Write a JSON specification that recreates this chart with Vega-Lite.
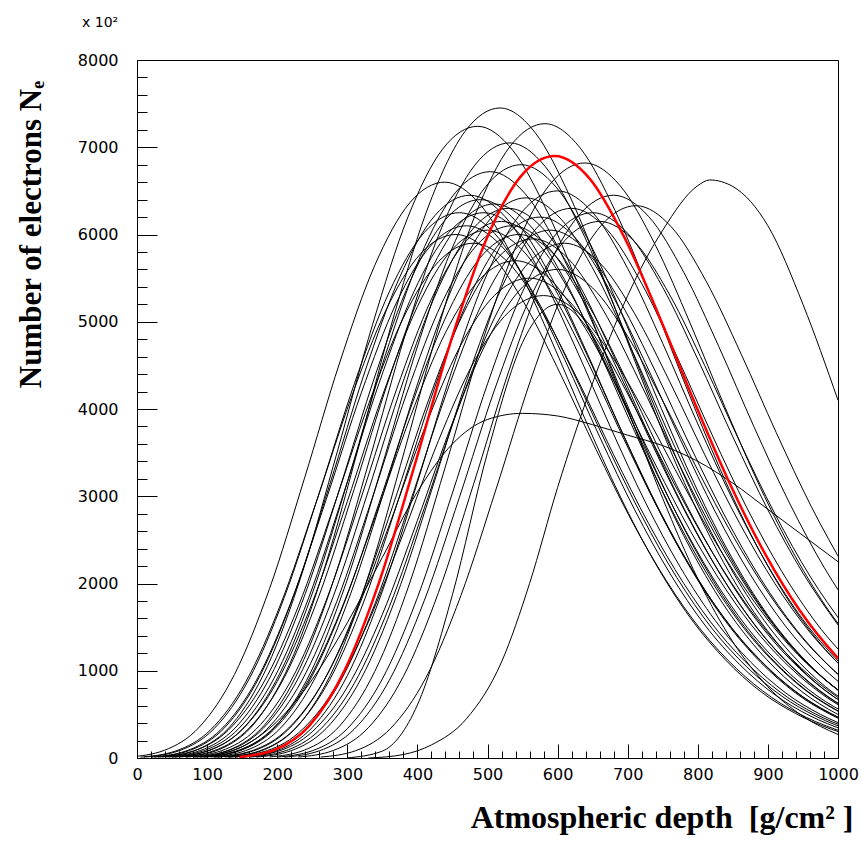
{
  "$schema": "https://vega.github.io/schema/vega-lite/v6.json",
  "width": 701,
  "height": 698,
  "autosize": "none",
  "padding": {"left": 137, "top": 60, "right": 24, "bottom": 84},
  "background": "white",
  "config": {"view": {"stroke": "black", "strokeWidth": 1}},
  "title": {"text": "x 10²", "anchor": "start", "frame": "group", "dx": -55, "offset": 11, "baseline": "alphabetic", "font": "DejaVu Sans", "fontSize": 14, "fontWeight": "normal", "color": "black"},
  "datasets": {
    "curves": [
{"c":1,"x":68,"y":13},{"c":1,"x":118,"y":99},{"c":1,"x":168,"y":401},{"c":1,"x":218,"y":1080},{"c":1,"x":268,"y":2190},{"c":1,"x":318,"y":3621},{"c":1,"x":368,"y":5111},{"c":1,"x":418,"y":6370},{"c":1,"x":468,"y":7182},{"c":1,"x":518,"y":7450},{"c":1,"x":568,"y":7167},{"c":1,"x":618,"y":6429},{"c":1,"x":668,"y":5446},{"c":1,"x":718,"y":4388},{"c":1,"x":768,"y":3390},{"c":1,"x":818,"y":2526},{"c":1,"x":868,"y":1818},{"c":1,"x":918,"y":1274},{"c":1,"x":968,"y":864},{"c":1,"x":1018,"y":577},
{"c":2,"x":36,"y":12},{"c":2,"x":86,"y":96},{"c":2,"x":136,"y":390},{"c":2,"x":186,"y":1050},{"c":2,"x":236,"y":2129},{"c":2,"x":286,"y":3519},{"c":2,"x":336,"y":4967},{"c":2,"x":386,"y":6190},{"c":2,"x":436,"y":6979},{"c":2,"x":486,"y":7240},{"c":2,"x":536,"y":6965},{"c":2,"x":586,"y":6248},{"c":2,"x":636,"y":5292},{"c":2,"x":686,"y":4264},{"c":2,"x":736,"y":3294},{"c":2,"x":786,"y":2454},{"c":2,"x":836,"y":1767},{"c":2,"x":886,"y":1238},{"c":2,"x":936,"y":840},{"c":2,"x":986,"y":561},{"c":2,"x":1036,"y":366},
{"c":3,"x":132,"y":12},{"c":3,"x":182,"y":97},{"c":3,"x":232,"y":391},{"c":3,"x":282,"y":1054},{"c":3,"x":332,"y":2137},{"c":3,"x":382,"y":3533},{"c":3,"x":432,"y":4987},{"c":3,"x":482,"y":6216},{"c":3,"x":532,"y":7008},{"c":3,"x":582,"y":7270},{"c":3,"x":632,"y":6994},{"c":3,"x":682,"y":6274},{"c":3,"x":732,"y":5314},{"c":3,"x":782,"y":4282},{"c":3,"x":832,"y":3308},{"c":3,"x":882,"y":2465},{"c":3,"x":932,"y":1774},{"c":3,"x":982,"y":1243},{"c":3,"x":1032,"y":843},
{"c":4,"x":-11,"y":11},{"c":4,"x":39,"y":88},{"c":4,"x":89,"y":355},{"c":4,"x":139,"y":957},{"c":4,"x":189,"y":1940},{"c":4,"x":239,"y":3208},{"c":4,"x":289,"y":4528},{"c":4,"x":339,"y":5643},{"c":4,"x":389,"y":6362},{"c":4,"x":439,"y":6600},{"c":4,"x":489,"y":6349},{"c":4,"x":539,"y":5696},{"c":4,"x":589,"y":4825},{"c":4,"x":639,"y":3887},{"c":4,"x":689,"y":3003},{"c":4,"x":739,"y":2237},{"c":4,"x":789,"y":1610},{"c":4,"x":839,"y":1129},{"c":4,"x":889,"y":766},{"c":4,"x":939,"y":512},{"c":4,"x":989,"y":334},{"c":4,"x":1039,"y":214},
{"c":5,"x":189,"y":12},{"c":5,"x":239,"y":91},{"c":5,"x":289,"y":367},{"c":5,"x":339,"y":989},{"c":5,"x":389,"y":2005},{"c":5,"x":439,"y":3315},{"c":5,"x":489,"y":4679},{"c":5,"x":539,"y":5831},{"c":5,"x":589,"y":6574},{"c":5,"x":639,"y":6820},{"c":5,"x":689,"y":6561},{"c":5,"x":739,"y":5886},{"c":5,"x":789,"y":4985},{"c":5,"x":839,"y":4017},{"c":5,"x":889,"y":3103},{"c":5,"x":939,"y":2312},{"c":5,"x":989,"y":1664},{"c":5,"x":1039,"y":1166},
{"c":6,"x":82,"y":12},{"c":6,"x":132,"y":94},{"c":6,"x":182,"y":379},{"c":6,"x":232,"y":1022},{"c":6,"x":282,"y":2073},{"c":6,"x":332,"y":3426},{"c":6,"x":382,"y":4836},{"c":6,"x":432,"y":6028},{"c":6,"x":482,"y":6796},{"c":6,"x":532,"y":7050},{"c":6,"x":582,"y":6782},{"c":6,"x":632,"y":6084},{"c":6,"x":682,"y":5154},{"c":6,"x":732,"y":4152},{"c":6,"x":782,"y":3208},{"c":6,"x":832,"y":2390},{"c":6,"x":882,"y":1720},{"c":6,"x":932,"y":1206},{"c":6,"x":982,"y":818},{"c":6,"x":1032,"y":546},
{"c":7,"x":98,"y":12},{"c":7,"x":148,"y":90},{"c":7,"x":198,"y":366},{"c":7,"x":248,"y":986},{"c":7,"x":298,"y":1999},{"c":7,"x":348,"y":3305},{"c":7,"x":398,"y":4665},{"c":7,"x":448,"y":5814},{"c":7,"x":498,"y":6555},{"c":7,"x":548,"y":6800},{"c":7,"x":598,"y":6542},{"c":7,"x":648,"y":5868},{"c":7,"x":698,"y":4971},{"c":7,"x":748,"y":4005},{"c":7,"x":798,"y":3094},{"c":7,"x":848,"y":2305},{"c":7,"x":898,"y":1659},{"c":7,"x":948,"y":1163},{"c":7,"x":998,"y":789},{"c":7,"x":1048,"y":527},
{"c":8,"x":54,"y":11},{"c":8,"x":104,"y":89},{"c":8,"x":154,"y":362},{"c":8,"x":204,"y":974},{"c":8,"x":254,"y":1976},{"c":8,"x":304,"y":3266},{"c":8,"x":354,"y":4610},{"c":8,"x":404,"y":5746},{"c":8,"x":454,"y":6478},{"c":8,"x":504,"y":6720},{"c":8,"x":554,"y":6465},{"c":8,"x":604,"y":5799},{"c":8,"x":654,"y":4912},{"c":8,"x":704,"y":3958},{"c":8,"x":754,"y":3058},{"c":8,"x":804,"y":2278},{"c":8,"x":854,"y":1640},{"c":8,"x":904,"y":1149},{"c":8,"x":954,"y":780},{"c":8,"x":1004,"y":521},
{"c":9,"x":25,"y":11},{"c":9,"x":75,"y":86},{"c":9,"x":125,"y":347},{"c":9,"x":175,"y":935},{"c":9,"x":225,"y":1896},{"c":9,"x":275,"y":3135},{"c":9,"x":325,"y":4425},{"c":9,"x":375,"y":5515},{"c":9,"x":425,"y":6218},{"c":9,"x":475,"y":6450},{"c":9,"x":525,"y":6205},{"c":9,"x":575,"y":5566},{"c":9,"x":625,"y":4715},{"c":9,"x":675,"y":3799},{"c":9,"x":725,"y":2935},{"c":9,"x":775,"y":2187},{"c":9,"x":825,"y":1574},{"c":9,"x":875,"y":1103},{"c":9,"x":925,"y":748},{"c":9,"x":975,"y":500},{"c":9,"x":1025,"y":326},
{"c":10,"x":262,"y":11},{"c":10,"x":312,"y":84},{"c":10,"x":362,"y":341},{"c":10,"x":412,"y":918},{"c":10,"x":462,"y":1861},{"c":10,"x":512,"y":3076},{"c":10,"x":562,"y":4342},{"c":10,"x":612,"y":5412},{"c":10,"x":662,"y":6102},{"c":10,"x":712,"y":6330},{"c":10,"x":762,"y":6089},{"c":10,"x":812,"y":5463},{"c":10,"x":862,"y":4627},{"c":10,"x":912,"y":3728},{"c":10,"x":962,"y":2880},{"c":10,"x":1012,"y":2146},
{"c":11,"x":230,"y":11},{"c":11,"x":280,"y":86},{"c":11,"x":330,"y":347},{"c":11,"x":380,"y":935},{"c":11,"x":430,"y":1896},{"c":11,"x":480,"y":3135},{"c":11,"x":530,"y":4425},{"c":11,"x":580,"y":5515},{"c":11,"x":630,"y":6218},{"c":11,"x":680,"y":6450},{"c":11,"x":730,"y":6205},{"c":11,"x":780,"y":5566},{"c":11,"x":830,"y":4715},{"c":11,"x":880,"y":3799},{"c":11,"x":930,"y":2935},{"c":11,"x":980,"y":2187},{"c":11,"x":1030,"y":1574},
{"c":12,"x":10,"y":11},{"c":12,"x":60,"y":83},{"c":12,"x":110,"y":336},{"c":12,"x":160,"y":906},{"c":12,"x":210,"y":1838},{"c":12,"x":260,"y":3038},{"c":12,"x":310,"y":4288},{"c":12,"x":360,"y":5344},{"c":12,"x":410,"y":6025},{"c":12,"x":460,"y":6250},{"c":12,"x":510,"y":6013},{"c":12,"x":560,"y":5394},{"c":12,"x":610,"y":4569},{"c":12,"x":660,"y":3681},{"c":12,"x":710,"y":2844},{"c":12,"x":760,"y":2119},{"c":12,"x":810,"y":1525},{"c":12,"x":860,"y":1069},{"c":12,"x":910,"y":725},{"c":12,"x":960,"y":484},{"c":12,"x":1010,"y":316},
{"c":13,"x":40,"y":11},{"c":13,"x":90,"y":85},{"c":13,"x":140,"y":344},{"c":13,"x":190,"y":928},{"c":13,"x":240,"y":1882},{"c":13,"x":290,"y":3110},{"c":13,"x":340,"y":4390},{"c":13,"x":390,"y":5472},{"c":13,"x":440,"y":6170},{"c":13,"x":490,"y":6400},{"c":13,"x":540,"y":6157},{"c":13,"x":590,"y":5523},{"c":13,"x":640,"y":4678},{"c":13,"x":690,"y":3770},{"c":13,"x":740,"y":2912},{"c":13,"x":790,"y":2170},{"c":13,"x":840,"y":1562},{"c":13,"x":890,"y":1094},{"c":13,"x":940,"y":742},{"c":13,"x":990,"y":496},{"c":13,"x":1040,"y":324},
{"c":14,"x":60,"y":11},{"c":14,"x":110,"y":84},{"c":14,"x":160,"y":342},{"c":14,"x":210,"y":921},{"c":14,"x":260,"y":1867},{"c":14,"x":310,"y":3086},{"c":14,"x":360,"y":4356},{"c":14,"x":410,"y":5429},{"c":14,"x":460,"y":6121},{"c":14,"x":510,"y":6350},{"c":14,"x":560,"y":6109},{"c":14,"x":610,"y":5480},{"c":14,"x":660,"y":4642},{"c":14,"x":710,"y":3740},{"c":14,"x":760,"y":2889},{"c":14,"x":810,"y":2153},{"c":14,"x":860,"y":1549},{"c":14,"x":910,"y":1086},{"c":14,"x":960,"y":737},{"c":14,"x":1010,"y":492},
{"c":15,"x":80,"y":11},{"c":15,"x":130,"y":84},{"c":15,"x":180,"y":339},{"c":15,"x":230,"y":914},{"c":15,"x":280,"y":1852},{"c":15,"x":330,"y":3062},{"c":15,"x":380,"y":4322},{"c":15,"x":430,"y":5387},{"c":15,"x":480,"y":6073},{"c":15,"x":530,"y":6300},{"c":15,"x":580,"y":6061},{"c":15,"x":630,"y":5437},{"c":15,"x":680,"y":4605},{"c":15,"x":730,"y":3711},{"c":15,"x":780,"y":2867},{"c":15,"x":830,"y":2136},{"c":15,"x":880,"y":1537},{"c":15,"x":930,"y":1077},{"c":15,"x":980,"y":731},{"c":15,"x":1030,"y":488},
{"c":16,"x":105,"y":11},{"c":16,"x":155,"y":85},{"c":16,"x":205,"y":345},{"c":16,"x":255,"y":931},{"c":16,"x":305,"y":1887},{"c":16,"x":355,"y":3120},{"c":16,"x":405,"y":4404},{"c":16,"x":455,"y":5489},{"c":16,"x":505,"y":6189},{"c":16,"x":555,"y":6420},{"c":16,"x":605,"y":6176},{"c":16,"x":655,"y":5540},{"c":16,"x":705,"y":4693},{"c":16,"x":755,"y":3781},{"c":16,"x":805,"y":2921},{"c":16,"x":855,"y":2176},{"c":16,"x":905,"y":1566},{"c":16,"x":955,"y":1098},{"c":16,"x":1005,"y":745},
{"c":17,"x":125,"y":11},{"c":17,"x":175,"y":82},{"c":17,"x":225,"y":334},{"c":17,"x":275,"y":899},{"c":17,"x":325,"y":1823},{"c":17,"x":375,"y":3013},{"c":17,"x":425,"y":4253},{"c":17,"x":475,"y":5301},{"c":17,"x":525,"y":5977},{"c":17,"x":575,"y":6200},{"c":17,"x":625,"y":5964},{"c":17,"x":675,"y":5351},{"c":17,"x":725,"y":4532},{"c":17,"x":775,"y":3652},{"c":17,"x":825,"y":2821},{"c":17,"x":875,"y":2102},{"c":17,"x":925,"y":1513},{"c":17,"x":975,"y":1060},{"c":17,"x":1025,"y":719},
{"c":18,"x":150,"y":11},{"c":18,"x":200,"y":86},{"c":18,"x":250,"y":350},{"c":18,"x":300,"y":943},{"c":18,"x":350,"y":1911},{"c":18,"x":400,"y":3159},{"c":18,"x":450,"y":4459},{"c":18,"x":500,"y":5558},{"c":18,"x":550,"y":6266},{"c":18,"x":600,"y":6500},{"c":18,"x":650,"y":6253},{"c":18,"x":700,"y":5610},{"c":18,"x":750,"y":4752},{"c":18,"x":800,"y":3829},{"c":18,"x":850,"y":2958},{"c":18,"x":900,"y":2204},{"c":18,"x":950,"y":1586},{"c":18,"x":1000,"y":1112},
{"c":19,"x":170,"y":11},{"c":19,"x":220,"y":84},{"c":19,"x":270,"y":339},{"c":19,"x":320,"y":914},{"c":19,"x":370,"y":1852},{"c":19,"x":420,"y":3062},{"c":19,"x":470,"y":4322},{"c":19,"x":520,"y":5387},{"c":19,"x":570,"y":6073},{"c":19,"x":620,"y":6300},{"c":19,"x":670,"y":6061},{"c":19,"x":720,"y":5437},{"c":19,"x":770,"y":4605},{"c":19,"x":820,"y":3711},{"c":19,"x":870,"y":2867},{"c":19,"x":920,"y":2136},{"c":19,"x":970,"y":1537},{"c":19,"x":1020,"y":1077},
{"c":20,"x":200,"y":11},{"c":20,"x":250,"y":83},{"c":20,"x":300,"y":336},{"c":20,"x":350,"y":906},{"c":20,"x":400,"y":1838},{"c":20,"x":450,"y":3038},{"c":20,"x":500,"y":4288},{"c":20,"x":550,"y":5344},{"c":20,"x":600,"y":6025},{"c":20,"x":650,"y":6250},{"c":20,"x":700,"y":6013},{"c":20,"x":750,"y":5394},{"c":20,"x":800,"y":4569},{"c":20,"x":850,"y":3681},{"c":20,"x":900,"y":2844},{"c":20,"x":950,"y":2119},{"c":20,"x":1000,"y":1525},
{"c":21,"x":20,"y":10},{"c":21,"x":70,"y":81},{"c":21,"x":120,"y":328},{"c":21,"x":170,"y":885},{"c":21,"x":220,"y":1793},{"c":21,"x":270,"y":2965},{"c":21,"x":320,"y":4185},{"c":21,"x":370,"y":5216},{"c":21,"x":420,"y":5880},{"c":21,"x":470,"y":6100},{"c":21,"x":520,"y":5868},{"c":21,"x":570,"y":5264},{"c":21,"x":620,"y":4459},{"c":21,"x":670,"y":3593},{"c":21,"x":720,"y":2776},{"c":21,"x":770,"y":2068},{"c":21,"x":820,"y":1488},{"c":21,"x":870,"y":1043},{"c":21,"x":920,"y":708},{"c":21,"x":970,"y":473},{"c":21,"x":1020,"y":309},
{"c":22,"x":50,"y":10},{"c":22,"x":100,"y":80},{"c":22,"x":150,"y":325},{"c":22,"x":200,"y":877},{"c":22,"x":250,"y":1779},{"c":22,"x":300,"y":2940},{"c":22,"x":350,"y":4150},{"c":22,"x":400,"y":5173},{"c":22,"x":450,"y":5832},{"c":22,"x":500,"y":6050},{"c":22,"x":550,"y":5820},{"c":22,"x":600,"y":5221},{"c":22,"x":650,"y":4423},{"c":22,"x":700,"y":3563},{"c":22,"x":750,"y":2753},{"c":22,"x":800,"y":2051},{"c":22,"x":850,"y":1476},{"c":22,"x":900,"y":1035},{"c":22,"x":950,"y":702},{"c":22,"x":1000,"y":469},
{"c":23,"x":70,"y":10},{"c":23,"x":120,"y":82},{"c":23,"x":170,"y":331},{"c":23,"x":220,"y":892},{"c":23,"x":270,"y":1808},{"c":23,"x":320,"y":2989},{"c":23,"x":370,"y":4219},{"c":23,"x":420,"y":5258},{"c":23,"x":470,"y":5929},{"c":23,"x":520,"y":6150},{"c":23,"x":570,"y":5916},{"c":23,"x":620,"y":5307},{"c":23,"x":670,"y":4496},{"c":23,"x":720,"y":3622},{"c":23,"x":770,"y":2798},{"c":23,"x":820,"y":2085},{"c":23,"x":870,"y":1501},{"c":23,"x":920,"y":1052},{"c":23,"x":970,"y":713},{"c":23,"x":1020,"y":477},
{"c":24,"x":95,"y":10},{"c":24,"x":145,"y":80},{"c":24,"x":195,"y":323},{"c":24,"x":245,"y":870},{"c":24,"x":295,"y":1764},{"c":24,"x":345,"y":2916},{"c":24,"x":395,"y":4116},{"c":24,"x":445,"y":5130},{"c":24,"x":495,"y":5784},{"c":24,"x":545,"y":6000},{"c":24,"x":595,"y":5772},{"c":24,"x":645,"y":5178},{"c":24,"x":695,"y":4386},{"c":24,"x":745,"y":3534},{"c":24,"x":795,"y":2730},{"c":24,"x":845,"y":2034},{"c":24,"x":895,"y":1464},{"c":24,"x":945,"y":1026},{"c":24,"x":995,"y":696},{"c":24,"x":1045,"y":465},
{"c":25,"x":115,"y":10},{"c":25,"x":165,"y":79},{"c":25,"x":215,"y":320},{"c":25,"x":265,"y":863},{"c":25,"x":315,"y":1749},{"c":25,"x":365,"y":2892},{"c":25,"x":415,"y":4082},{"c":25,"x":465,"y":5087},{"c":25,"x":515,"y":5736},{"c":25,"x":565,"y":5950},{"c":25,"x":615,"y":5724},{"c":25,"x":665,"y":5135},{"c":25,"x":715,"y":4349},{"c":25,"x":765,"y":3505},{"c":25,"x":815,"y":2707},{"c":25,"x":865,"y":2017},{"c":25,"x":915,"y":1452},{"c":25,"x":965,"y":1017},{"c":25,"x":1015,"y":690},
{"c":26,"x":140,"y":10},{"c":26,"x":190,"y":80},{"c":26,"x":240,"y":325},{"c":26,"x":290,"y":877},{"c":26,"x":340,"y":1779},{"c":26,"x":390,"y":2940},{"c":26,"x":440,"y":4150},{"c":26,"x":490,"y":5173},{"c":26,"x":540,"y":5832},{"c":26,"x":590,"y":6050},{"c":26,"x":640,"y":5820},{"c":26,"x":690,"y":5221},{"c":26,"x":740,"y":4423},{"c":26,"x":790,"y":3563},{"c":26,"x":840,"y":2753},{"c":26,"x":890,"y":2051},{"c":26,"x":940,"y":1476},{"c":26,"x":990,"y":1035},{"c":26,"x":1040,"y":702},
{"c":27,"x":160,"y":10},{"c":27,"x":210,"y":78},{"c":27,"x":260,"y":317},{"c":27,"x":310,"y":856},{"c":27,"x":360,"y":1735},{"c":27,"x":410,"y":2867},{"c":27,"x":460,"y":4047},{"c":27,"x":510,"y":5045},{"c":27,"x":560,"y":5688},{"c":27,"x":610,"y":5900},{"c":27,"x":660,"y":5676},{"c":27,"x":710,"y":5092},{"c":27,"x":760,"y":4313},{"c":27,"x":810,"y":3475},{"c":27,"x":860,"y":2685},{"c":27,"x":910,"y":2000},{"c":27,"x":960,"y":1440},{"c":27,"x":1010,"y":1009},
{"c":28,"x":210,"y":10},{"c":28,"x":260,"y":82},{"c":28,"x":310,"y":331},{"c":28,"x":360,"y":892},{"c":28,"x":410,"y":1808},{"c":28,"x":460,"y":2989},{"c":28,"x":510,"y":4219},{"c":28,"x":560,"y":5258},{"c":28,"x":610,"y":5929},{"c":28,"x":660,"y":6150},{"c":28,"x":710,"y":5916},{"c":28,"x":760,"y":5307},{"c":28,"x":810,"y":4496},{"c":28,"x":860,"y":3622},{"c":28,"x":910,"y":2798},{"c":28,"x":960,"y":2085},{"c":28,"x":1010,"y":1501},
{"c":29,"x":90,"y":10},{"c":29,"x":140,"y":76},{"c":29,"x":190,"y":307},{"c":29,"x":240,"y":827},{"c":29,"x":290,"y":1676},{"c":29,"x":340,"y":2770},{"c":29,"x":390,"y":3910},{"c":29,"x":440,"y":4874},{"c":29,"x":490,"y":5495},{"c":29,"x":540,"y":5700},{"c":29,"x":590,"y":5483},{"c":29,"x":640,"y":4919},{"c":29,"x":690,"y":4167},{"c":29,"x":740,"y":3357},{"c":29,"x":790,"y":2594},{"c":29,"x":840,"y":1932},{"c":29,"x":890,"y":1391},{"c":29,"x":940,"y":975},{"c":29,"x":990,"y":661},{"c":29,"x":1040,"y":442},
{"c":30,"x":110,"y":9},{"c":30,"x":160,"y":73},{"c":30,"x":210,"y":296},{"c":30,"x":260,"y":798},{"c":30,"x":310,"y":1617},{"c":30,"x":360,"y":2673},{"c":30,"x":410,"y":3773},{"c":30,"x":460,"y":4703},{"c":30,"x":510,"y":5302},{"c":30,"x":560,"y":5500},{"c":30,"x":610,"y":5291},{"c":30,"x":660,"y":4747},{"c":30,"x":710,"y":4021},{"c":30,"x":760,"y":3240},{"c":30,"x":810,"y":2503},{"c":30,"x":860,"y":1865},{"c":30,"x":910,"y":1342},{"c":30,"x":960,"y":941},{"c":30,"x":1010,"y":638},
{"c":31,"x":130,"y":9},{"c":31,"x":180,"y":70},{"c":31,"x":230,"y":285},{"c":31,"x":280,"y":769},{"c":31,"x":330,"y":1558},{"c":31,"x":380,"y":2576},{"c":31,"x":430,"y":3636},{"c":31,"x":480,"y":4532},{"c":31,"x":530,"y":5109},{"c":31,"x":580,"y":5300},{"c":31,"x":630,"y":5099},{"c":31,"x":680,"y":4574},{"c":31,"x":730,"y":3874},{"c":31,"x":780,"y":3122},{"c":31,"x":830,"y":2412},{"c":31,"x":880,"y":1797},{"c":31,"x":930,"y":1293},{"c":31,"x":980,"y":906},{"c":31,"x":1030,"y":615},
{"c":32,"x":150,"y":10},{"c":32,"x":200,"y":74},{"c":32,"x":250,"y":301},{"c":32,"x":300,"y":812},{"c":32,"x":350,"y":1646},{"c":32,"x":400,"y":2722},{"c":32,"x":450,"y":3842},{"c":32,"x":500,"y":4788},{"c":32,"x":550,"y":5398},{"c":32,"x":600,"y":5600},{"c":32,"x":650,"y":5387},{"c":32,"x":700,"y":4833},{"c":32,"x":750,"y":4094},{"c":32,"x":800,"y":3298},{"c":32,"x":850,"y":2548},{"c":32,"x":900,"y":1898},{"c":32,"x":950,"y":1366},{"c":32,"x":1000,"y":958},
{"c":33,"x":30,"y":10},{"c":33,"x":80,"y":78},{"c":33,"x":130,"y":317},{"c":33,"x":180,"y":856},{"c":33,"x":230,"y":1735},{"c":33,"x":280,"y":2867},{"c":33,"x":330,"y":4047},{"c":33,"x":380,"y":5045},{"c":33,"x":430,"y":5688},{"c":33,"x":480,"y":5900},{"c":33,"x":530,"y":5676},{"c":33,"x":580,"y":5092},{"c":33,"x":630,"y":4313},{"c":33,"x":680,"y":3475},{"c":33,"x":730,"y":2685},{"c":33,"x":780,"y":2000},{"c":33,"x":830,"y":1440},{"c":33,"x":880,"y":1009},{"c":33,"x":930,"y":684},{"c":33,"x":980,"y":457},{"c":33,"x":1030,"y":299},
{"c":34,"x":45,"y":11},{"c":34,"x":95,"y":83},{"c":34,"x":145,"y":336},{"c":34,"x":195,"y":906},{"c":34,"x":245,"y":1838},{"c":34,"x":295,"y":3038},{"c":34,"x":345,"y":4288},{"c":34,"x":395,"y":5344},{"c":34,"x":445,"y":6025},{"c":34,"x":495,"y":6250},{"c":34,"x":545,"y":6013},{"c":34,"x":595,"y":5394},{"c":34,"x":645,"y":4569},{"c":34,"x":695,"y":3681},{"c":34,"x":745,"y":2844},{"c":34,"x":795,"y":2119},{"c":34,"x":845,"y":1525},{"c":34,"x":895,"y":1069},{"c":34,"x":945,"y":725},{"c":34,"x":995,"y":484},{"c":34,"x":1045,"y":316},
{"c":35,"x":85,"y":10},{"c":35,"x":135,"y":81},{"c":35,"x":185,"y":328},{"c":35,"x":235,"y":885},{"c":35,"x":285,"y":1793},{"c":35,"x":335,"y":2965},{"c":35,"x":385,"y":4185},{"c":35,"x":435,"y":5216},{"c":35,"x":485,"y":5880},{"c":35,"x":535,"y":6100},{"c":35,"x":585,"y":5868},{"c":35,"x":635,"y":5264},{"c":35,"x":685,"y":4459},{"c":35,"x":735,"y":3593},{"c":35,"x":785,"y":2776},{"c":35,"x":835,"y":2068},{"c":35,"x":885,"y":1488},{"c":35,"x":935,"y":1043},{"c":35,"x":985,"y":708},{"c":35,"x":1035,"y":473},
{"c":36,"x":5,"y":10},{"c":36,"x":55,"y":80},{"c":36,"x":105,"y":323},{"c":36,"x":155,"y":870},{"c":36,"x":205,"y":1764},{"c":36,"x":255,"y":2916},{"c":36,"x":305,"y":4116},{"c":36,"x":355,"y":5130},{"c":36,"x":405,"y":5784},{"c":36,"x":455,"y":6000},{"c":36,"x":505,"y":5772},{"c":36,"x":555,"y":5178},{"c":36,"x":605,"y":4386},{"c":36,"x":655,"y":3534},{"c":36,"x":705,"y":2730},{"c":36,"x":755,"y":2034},{"c":36,"x":805,"y":1464},{"c":36,"x":855,"y":1026},{"c":36,"x":905,"y":696},{"c":36,"x":955,"y":465},{"c":36,"x":1005,"y":304},
{"c":37,"x":330,"y":0},{"c":37,"x":380,"y":40},{"c":37,"x":420,"y":150},{"c":37,"x":470,"y":450},{"c":37,"x":520,"y":1100},{"c":37,"x":560,"y":2000},{"c":37,"x":600,"y":3100},{"c":37,"x":650,"y":4300},{"c":37,"x":700,"y":5300},{"c":37,"x":750,"y":6050},{"c":37,"x":800,"y":6560},{"c":37,"x":817,"y":6625},{"c":37,"x":850,"y":6550},{"c":37,"x":900,"y":6100},{"c":37,"x":950,"y":5200},{"c":37,"x":1000,"y":4100},
{"c":38,"x":100,"y":20},{"c":38,"x":150,"y":130},{"c":38,"x":200,"y":420},{"c":38,"x":250,"y":900},{"c":38,"x":300,"y":1550},{"c":38,"x":350,"y":2300},{"c":38,"x":400,"y":3050},{"c":38,"x":450,"y":3600},{"c":38,"x":500,"y":3880},{"c":38,"x":550,"y":3950},{"c":38,"x":600,"y":3920},{"c":38,"x":650,"y":3820},{"c":38,"x":700,"y":3700},{"c":38,"x":750,"y":3580},{"c":38,"x":800,"y":3400},{"c":38,"x":850,"y":3150},{"c":38,"x":900,"y":2850},{"c":38,"x":950,"y":2550},{"c":38,"x":1000,"y":2250},
{"c":39,"x":300,"y":1},{"c":39,"x":350,"y":79},{"c":39,"x":400,"y":608},{"c":39,"x":450,"y":1872},{"c":39,"x":500,"y":3500},{"c":39,"x":550,"y":4763},{"c":39,"x":600,"y":5200},{"c":39,"x":650,"y":4836},{"c":39,"x":700,"y":3983},{"c":39,"x":750,"y":2974},{"c":39,"x":800,"y":2054},{"c":39,"x":850,"y":1331},{"c":39,"x":900,"y":816},{"c":39,"x":950,"y":478},{"c":39,"x":1000,"y":270}
    ],
    "red": [
{"c":0,"x":146,"y":12},{"c":0,"x":196,"y":92},{"c":0,"x":246,"y":371},{"c":0,"x":296,"y":1001},{"c":0,"x":346,"y":2029},{"c":0,"x":396,"y":3353},{"c":0,"x":446,"y":4733},{"c":0,"x":496,"y":5900},{"c":0,"x":546,"y":6652},{"c":0,"x":596,"y":6900},{"c":0,"x":646,"y":6638},{"c":0,"x":696,"y":5955},{"c":0,"x":746,"y":5044},{"c":0,"x":796,"y":4064},{"c":0,"x":846,"y":3140},{"c":0,"x":896,"y":2339},{"c":0,"x":946,"y":1684},{"c":0,"x":996,"y":1180},{"c":0,"x":1046,"y":800}
    ]
  },
  "resolve": {"axis": {"x": "independent", "y": "independent"}},
  "layer": [
    {
      "data": {"name": "curves"},
      "mark": {"type": "line", "interpolate": "monotone", "stroke": "black", "strokeWidth": 1, "clip": true},
      "encoding": {
        "x": {"field": "x", "type": "quantitative", "scale": {"domain": [0, 1000], "nice": false, "zero": false},
          "axis": {"orient": "bottom", "offset": -14, "values": [0,100,200,300,400,500,600,700,800,900,1000], "format": "d", "title": "Atmospheric depth\u00a0\u00a0[g/cm² ]", "domain": false, "grid": false, "tickSize": 14, "tickColor": "black", "tickWidth": 1, "labelFont": "DejaVu Sans", "labelFontSize": 16, "labelColor": "black", "labelPadding": 8, "labelFlush": false, "labelOverlap": false, "titleFont": "Liberation Serif", "titleFontSize": 32, "titleFontWeight": "bold", "titleColor": "black", "titleX": 716, "titleY": 83, "titleAlign": "right", "titleBaseline": "alphabetic"}},
        "y": {"field": "y", "type": "quantitative", "scale": {"domain": [0, 8000], "nice": false, "zero": false},
          "axis": {"orient": "left", "offset": -20, "values": [0,1000,2000,3000,4000,5000,6000,7000,8000], "format": "d", "title": "Number of electrons Nₑ", "domain": false, "grid": false, "tickSize": 20, "tickColor": "black", "tickWidth": 1, "labelFont": "DejaVu Sans", "labelFontSize": 16, "labelColor": "black", "labelPadding": 19, "labelFlush": false, "labelOverlap": false, "titleFont": "Liberation Serif", "titleFontSize": 31, "titleFontWeight": "bold", "titleColor": "black", "titleX": -117, "titleY": 174, "titleAngle": -90, "titleAlign": "center", "titleBaseline": "alphabetic"}},
        "detail": {"field": "c", "type": "nominal"}
      }
    },
    {
      "data": {"name": "red"},
      "mark": {"type": "line", "interpolate": "monotone", "stroke": "#ff0000", "strokeWidth": 2.5, "clip": true},
      "encoding": {
        "x": {"field": "x", "type": "quantitative", "scale": {"domain": [0, 1000], "nice": false, "zero": false},
          "axis": {"orient": "bottom", "offset": -7, "values": [20,40,60,80,120,140,160,180,220,240,260,280,320,340,360,380,420,440,460,480,520,540,560,580,620,640,660,680,720,740,760,780,820,840,860,880,920,940,960,980], "labels": false, "title": null, "domain": false, "grid": false, "tickSize": 7, "tickColor": "black", "tickWidth": 1}},
        "y": {"field": "y", "type": "quantitative", "scale": {"domain": [0, 8000], "nice": false, "zero": false},
          "axis": {"orient": "left", "offset": -10, "values": [200,400,600,800,1200,1400,1600,1800,2200,2400,2600,2800,3200,3400,3600,3800,4200,4400,4600,4800,5200,5400,5600,5800,6200,6400,6600,6800,7200,7400,7600,7800], "labels": false, "title": null, "domain": false, "grid": false, "tickSize": 10, "tickColor": "black", "tickWidth": 1}}
      }
    }
  ]
}
